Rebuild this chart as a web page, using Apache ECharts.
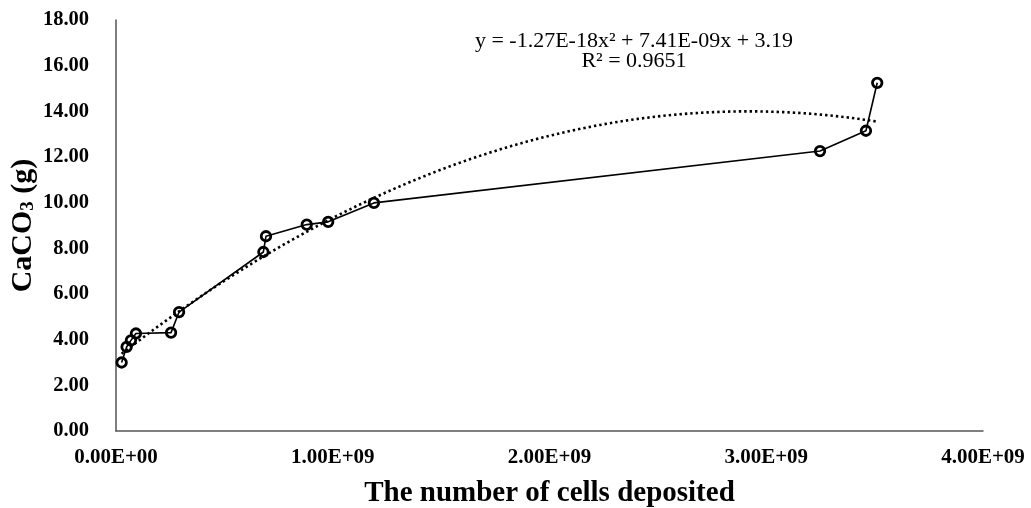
<!DOCTYPE html>
<html>
<head>
<meta charset="utf-8">
<script src="https://cdn.jsdelivr.net/npm/echarts@6/dist/echarts.min.js"></script>
<style>
html,body{margin:0;padding:0;background:#fff;}
#chart{width:1031px;height:508px;}
</style>
</head>
<body>
<div id="chart"></div>
<script>
// Data
var xCells = [0.026e9, 0.049e9, 0.069e9, 0.092e9, 0.254e9, 0.291e9, 0.680e9, 0.692e9, 0.880e9, 0.979e9, 1.190e9, 3.248e9, 3.460e9, 3.512e9];
var yCaCO3 = [3.00, 3.68, 3.97, 4.27, 4.31, 5.21, 7.84, 8.53, 9.04, 9.16, 9.99, 12.26, 13.15, 15.25];
// Polynomial trendline coefficients as shown on the chart (a, b, c for a*x^2 + b*x + c)
var trendCoef = [-1.27e-18, 7.41e-9, 3.19];
var xTickLabels = ['0.00E+00', '1.00E+09', '2.00E+09', '3.00E+09', '4.00E+09'];
var yTickLabels = ['0.00', '2.00', '4.00', '6.00', '8.00', '10.00', '12.00', '14.00', '16.00', '18.00'];
var equationText = 'y = -1.27E-18x\u00b2 + 7.41E-09x + 3.19';
var r2Text = 'R\u00b2 = 0.9651';

var points = xCells.map(function (x, i) { return [x, yCaCO3[i]]; });
var trend = [];
var x0 = xCells[0], x1 = xCells[xCells.length - 1];
var steps = 120;
for (var k = 0; k <= steps; k++) {
  var xv = x0 + (x1 - x0) * k / steps;
  trend.push([xv, trendCoef[0] * xv * xv + trendCoef[1] * xv + trendCoef[2]]);
}

var chart = echarts.init(document.getElementById('chart'));
var serif = '"Liberation Serif", "Times New Roman", serif';
chart.setOption({
  animation: false,
  backgroundColor: '#fff',
  grid: { left: 116, right: 48, top: 20, bottom: 77, containLabel: false, outerBoundsMode: 'none' },
  xAxis: {
    type: 'value', min: 0, max: 4e9, interval: 1e9,
    name: 'The number of cells deposited',
    nameLocation: 'middle', nameGap: 48, nameMoveOverlap: false,
    nameTextStyle: { fontFamily: serif, fontWeight: 'bold', fontSize: 29, color: '#000' },
    axisLine: { show: true, lineStyle: { color: '#555', width: 1.5 } },
    axisTick: { show: false },
    splitLine: { show: false },
    axisLabel: {
      fontFamily: serif, fontWeight: 'bold', fontSize: 21, color: '#000', margin: 16,
      formatter: function (v) { return xTickLabels[Math.round(v / 1e9)]; }
    }
  },
  yAxis: {
    type: 'value', min: 0, max: 18, interval: 2,
    name: '{a|CaCO}{s|3}{a| (g)}',
    nameLocation: 'middle', nameGap: 78, nameRotate: 90, nameMoveOverlap: false,
    nameTextStyle: {
      fontFamily: serif, fontWeight: 'bold', fontSize: 30, color: '#000',
      rich: {
        a: { fontFamily: serif, fontWeight: 'bold', fontSize: 30, color: '#000', lineHeight: 36, verticalAlign: 'bottom' },
        s: { fontFamily: serif, fontWeight: 'bold', fontSize: 19, color: '#000', lineHeight: 30, verticalAlign: 'bottom' }
      }
    },
    axisLine: { show: true, lineStyle: { color: '#555', width: 1.5 } },
    axisTick: { show: false },
    splitLine: { show: false },
    axisLabel: {
      fontFamily: serif, fontWeight: 'bold', fontSize: 20.5, color: '#000', margin: 27,
      formatter: function (v) { return yTickLabels[Math.round(v / 2)]; }
    }
  },
  series: [
    {
      type: 'line', data: trend, showSymbol: false, symbol: 'none', z: 2,
      lineStyle: { color: '#000', width: 2.6, type: [2.4, 3] }
    },
    {
      type: 'line', data: points, z: 3,
      symbol: 'circle', symbolSize: 9.5, showSymbol: true,
      lineStyle: { color: '#000', width: 1.6 },
      itemStyle: { color: 'rgba(255,255,255,0)', borderColor: '#000', borderWidth: 2.8 }
    }
  ],
  graphic: [
    {
      type: 'text', x: 634, y: 41,
      style: { text: equationText, fontFamily: serif, fontSize: 22, fill: '#000', align: 'center', verticalAlign: 'middle' }
    },
    {
      type: 'text', x: 634, y: 61,
      style: { text: r2Text, fontFamily: serif, fontSize: 22, fill: '#000', align: 'center', verticalAlign: 'middle' }
    }
  ]
});
</script>
</body>
</html>
